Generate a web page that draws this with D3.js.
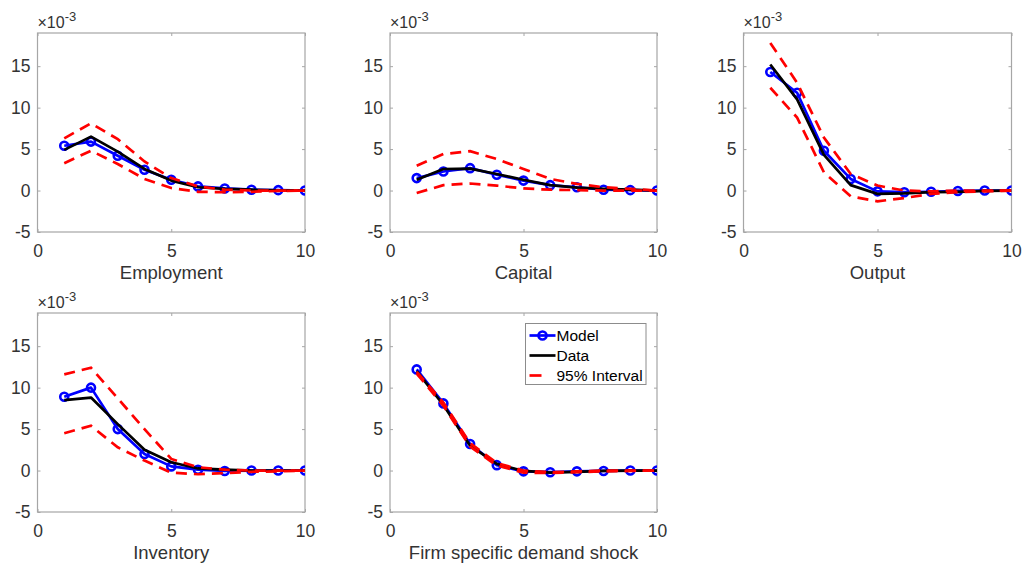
<!DOCTYPE html>
<html><head><meta charset="utf-8">
<script src="https://cdn.jsdelivr.net/npm/d3@7"></script>
<style>
body{margin:0;background:#fff;}
text{font-family:"Liberation Sans",Arial,sans-serif;}
</style></head>
<body>
<svg id="chart" width="1022" height="564"></svg>
<script>
// values are in units of 10^-3
const periods = [1,2,3,4,5,6,7,8,9,10];
const panelTitles = ["Employment","Capital","Output","Inventory","Firm specific demand shock"];
const xTicks = [0,5,10];
const yTicks = [-5,0,5,10,15];
const seriesNames = ["Model","Data","95% Interval"];

const modelEmployment = [5.4,5.9,4.2,2.5,1.3,0.5,0.25,0.1,0.05,0];
const dataEmployment  = [4.9,6.5,4.7,2.6,1.2,0.4,0.2,0.1,0.02,0];
const upperEmployment = [6.3,8.1,6.2,3.5,1.5,0.5,0.1,0,0,0];
const lowerEmployment = [3.3,4.8,3.2,1.4,0.3,-0.15,-0.2,-0.15,-0.05,0];

const modelCapital = [1.5,2.3,2.7,1.9,1.2,0.65,0.4,0.1,0.05,0];
const dataCapital  = [1.3,2.6,2.65,2.0,1.3,0.65,0.35,0.2,0.1,0];
const upperCapital = [3.0,4.4,4.75,3.8,2.6,1.4,0.8,0.4,0.2,0];
const lowerCapital = [-0.3,0.65,0.85,0.6,0.25,0.1,0.05,0,0,0];

const modelOutput = [14.3,11.8,4.8,1.4,-0.1,-0.2,-0.15,-0.05,0,0];
const dataOutput  = [15.2,11.0,4.3,0.65,-0.4,-0.35,-0.2,-0.15,-0.05,0];
const upperOutput = [17.8,13.0,6.4,2.0,0.6,0,-0.1,0,0,0];
const lowerOutput = [12.4,8.8,2.2,-0.7,-1.3,-0.9,-0.4,-0.2,-0.1,0];

const modelInventory = [8.9,10.0,5.0,2.0,0.5,0.1,-0.05,0,0,0];
const dataInventory  = [8.5,8.8,5.6,2.5,1.0,0.25,0.1,0,0,0];
const upperInventory = [11.6,12.4,8.7,5.0,1.4,0.4,0.1,0,0,0];
const lowerInventory = [4.5,5.4,2.8,1.2,-0.25,-0.45,-0.3,-0.15,-0.1,0];

const modelShock = [12.2,8.1,3.2,0.65,-0.1,-0.2,-0.1,-0.05,0,0];
const dataShock  = [12.0,7.9,3.0,0.8,-0.05,-0.25,-0.15,-0.05,0,0];
const upperShock = [11.9,8.2,3.3,0.9,0.0,-0.2,-0.1,0,0,0];
const lowerShock = [11.7,7.8,2.9,0.6,-0.25,-0.3,-0.2,-0.1,-0.05,0];

const panelData = [
  {model:modelEmployment, data:dataEmployment, upper:upperEmployment, lower:lowerEmployment},
  {model:modelCapital, data:dataCapital, upper:upperCapital, lower:lowerCapital},
  {model:modelOutput, data:dataOutput, upper:upperOutput, lower:lowerOutput},
  {model:modelInventory, data:dataInventory, upper:upperInventory, lower:lowerInventory},
  {model:modelShock, data:dataShock, upper:upperShock, lower:lowerShock}
];

const layout = [
  {x0:37.5, x1:305, y0:33, y1:232},
  {x0:390, x1:657, y0:33, y1:232},
  {x0:743.5, x1:1011.5, y0:33, y1:232},
  {x0:37.5, x1:305, y0:313, y1:512},
  {x0:390, x1:657, y0:313, y1:512}
];

const svg = d3.select("#chart");
const axisColor = "#333333";
const boxColor = "#a6a6a6";
const BLUE="#0000ff", BLACK="#000000", RED="#ff0000";
const dash = "11,7";
const fmt = d => String(d);

panelData.forEach((pd,i)=>{
  const L = layout[i];
  const x = d3.scaleLinear().domain([0,10]).range([L.x0,L.x1]);
  const y = d3.scaleLinear().domain([-5,19]).range([L.y1,L.y0]);
  const g = svg.append("g");

  g.append("rect").attr("x",L.x0).attr("y",L.y0).attr("width",L.x1-L.x0).attr("height",L.y1-L.y0)
    .attr("fill","#fff").attr("stroke",boxColor).attr("stroke-width",1.2);

  const styleAxis = (sel, showLabels)=>{
    sel.select(".domain").remove();
    sel.selectAll(".tick line").attr("stroke",boxColor).attr("stroke-width",1);
    sel.selectAll(".tick text").attr("fill",axisColor).attr("font-size",17.5)
      .style("font-family",'"Liberation Sans",Arial,sans-serif');
    if(!showLabels) sel.selectAll(".tick text").remove();
  };
  g.append("g").attr("transform",`translate(0,${L.y1})`)
    .call(d3.axisBottom(x).tickValues(xTicks).tickSize(-3).tickPadding(13).tickFormat(fmt))
    .call(s=>styleAxis(s,true));
  g.append("g").attr("transform",`translate(0,${L.y0})`)
    .call(d3.axisTop(x).tickValues(xTicks).tickSize(-3))
    .call(s=>styleAxis(s,false));
  g.append("g").attr("transform",`translate(${L.x0},0)`)
    .call(d3.axisLeft(y).tickValues(yTicks).tickSize(-3).tickPadding(7).tickFormat(fmt))
    .call(s=>styleAxis(s,true));
  g.append("g").attr("transform",`translate(${L.x1},0)`)
    .call(d3.axisRight(y).tickValues(yTicks).tickSize(-3))
    .call(s=>styleAxis(s,false));

  const ex = g.append("text").attr("x",L.x0).attr("y",L.y0-5).attr("fill",axisColor).attr("font-size",16);
  ex.append("tspan").text("\u00d710");
  ex.append("tspan").attr("dy",-7).attr("font-size",13).text("-3");

  g.append("text").attr("x",(L.x0+L.x1)/2).attr("y",L.y1+47).attr("text-anchor","middle")
    .attr("fill",axisColor).attr("font-size",18.5).text(panelTitles[i]);

  const line = d3.line().x((d,k)=>x(periods[k])).y(d=>y(d));
  const clip = "clip"+i;
  svg.append("clipPath").attr("id",clip).append("rect")
    .attr("x",L.x0).attr("y",L.y0).attr("width",L.x1-L.x0).attr("height",L.y1-L.y0);
  const pg = g.append("g").attr("clip-path",`url(#${clip})`);

  pg.append("path").attr("d",line(pd.model)).attr("fill","none").attr("stroke",BLUE).attr("stroke-width",2.7).attr("stroke-linejoin","round");
  pg.selectAll("circle.m").data(pd.model).enter().append("circle")
    .attr("cx",(d,k)=>x(periods[k])).attr("cy",d=>y(d)).attr("r",4)
    .attr("fill","none").attr("stroke",BLUE).attr("stroke-width",2.6);
  pg.append("path").attr("d",line(pd.data)).attr("fill","none").attr("stroke",BLACK).attr("stroke-width",2.7).attr("stroke-linejoin","round");
  pg.append("path").attr("d",line(pd.upper)).attr("fill","none").attr("stroke",RED).attr("stroke-width",2.7).attr("stroke-dasharray",dash);
  pg.append("path").attr("d",line(pd.lower)).attr("fill","none").attr("stroke",RED).attr("stroke-width",2.7).attr("stroke-dasharray",dash);
});

// legend
const lg = svg.append("g");
lg.append("rect").attr("x",525.5).attr("y",323.5).attr("width",120.5).attr("height",61)
  .attr("fill","#fff").attr("stroke","#8c8c8c").attr("stroke-width",1);
const legendRows = [
  {name:seriesNames[0], color:BLUE, x2:555.5, marker:true, y:335.5},
  {name:seriesNames[1], color:BLACK, x2:555.5, marker:false, y:355.5},
  {name:seriesNames[2], color:RED, x2:541.5, marker:false, y:375.5}
];
legendRows.forEach(r=>{
  lg.append("line").attr("x1",529.5).attr("x2",r.x2).attr("y1",r.y).attr("y2",r.y)
    .attr("stroke",r.color).attr("stroke-width",2.7);
  if(r.marker) lg.append("circle").attr("cx",542.5).attr("cy",r.y).attr("r",4)
    .attr("fill","none").attr("stroke",r.color).attr("stroke-width",2.6);
  lg.append("text").attr("x",556.5).attr("y",r.y+5.5).attr("font-size",15.5)
    .attr("fill","#000").text(r.name);
});
</script>
</body></html>
